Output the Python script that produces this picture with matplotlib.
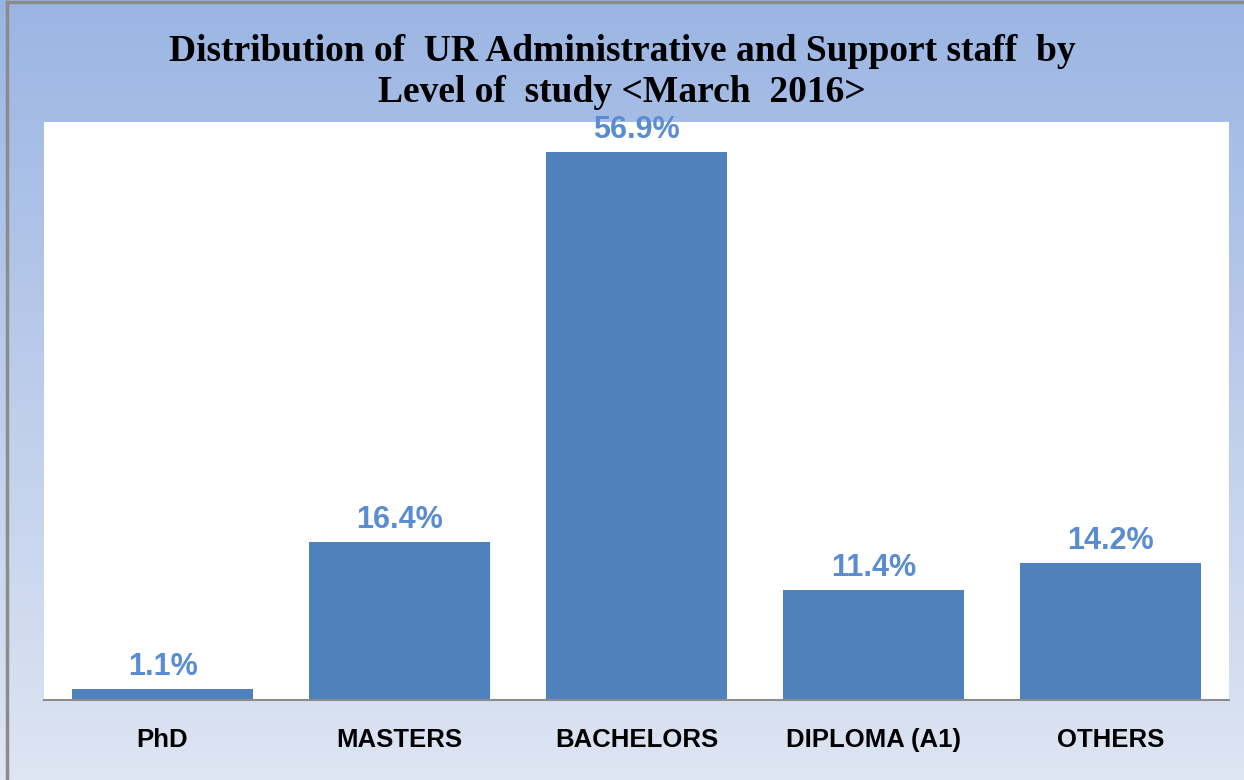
import numpy as np
import matplotlib
matplotlib.use("Agg")
import matplotlib.pyplot as plt
from matplotlib.colors import LinearSegmentedColormap
from matplotlib.lines import Line2D

# data
categories = ["PhD", "MASTERS", "BACHELORS", "DIPLOMA (A1)", "OTHERS"]
shares = [1.1, 16.4, 56.9, 11.4, 14.2]
labels = ["1.1%", "16.4%", "56.9%", "11.4%", "14.2%"]

title = "Distribution of  UR Administrative and Support staff  by\nLevel of  study <March  2016>"

W, H = 1244, 780
fig = plt.figure(figsize=(W / 100, H / 100), dpi=100)

# gradient background
bg = fig.add_axes([0, 0, 1, 1], zorder=-10)
grad = np.linspace(0, 1, 256).reshape(-1, 1)
cmap = LinearSegmentedColormap.from_list("bg", ["#9bb5e3", "#dee5f3"])
bg.imshow(grad, aspect="auto", cmap=cmap, extent=[0, 1, 0, 1], origin="upper")
bg.set_xlim(0, 1)
bg.set_ylim(0, 1)
bg.axis("off")
# frame only shows on left and top (cropped slide)
bg.add_line(Line2D([7 / W, 7 / W], [0, 1 - 2 / H], color="#8c8c8c", lw=2.5))
bg.add_line(Line2D([7 / W, 1], [1 - 2 / H, 1 - 2 / H], color="#8c8c8c", lw=2.5))

# plot area in pixels: x 44..1229, y 122..700
ax = fig.add_axes([44 / W, (H - 700) / H, (1229 - 44) / W, (700 - 122) / H])
ax.set_facecolor("white")
x = np.arange(len(categories))
ax.bar(x, shares, width=0.76, color="#4f81bd")
for xi, v, lab in zip(x, shares, labels):
    ax.annotate(lab, (xi, v), xytext=(0, 5), textcoords="offset points",
                ha="center", va="bottom", fontsize=22, fontweight="bold",
                color="#5a8cd2", family="Liberation Sans")

ax.set_xlim(-0.5, len(categories) - 0.5)
ax.set_ylim(0, 60)
ax.set_yticks([])
ax.set_xticks(x)
ax.set_xticklabels(categories, fontsize=18.5, fontweight="bold",
                   family="Liberation Sans")
ax.tick_params(axis="x", length=0, pad=20)
for s in ["top", "left", "right"]:
    ax.spines[s].set_visible(False)
ax.spines["bottom"].set_color("#8c8c8c")
ax.spines["bottom"].set_linewidth(1.5)

fig.text(0.5, 1 - 72 / H, title, ha="center", va="center", fontsize=27,
         fontweight="bold", family="Liberation Serif", linespacing=1.25)

fig.savefig("out.png", dpi=100)
